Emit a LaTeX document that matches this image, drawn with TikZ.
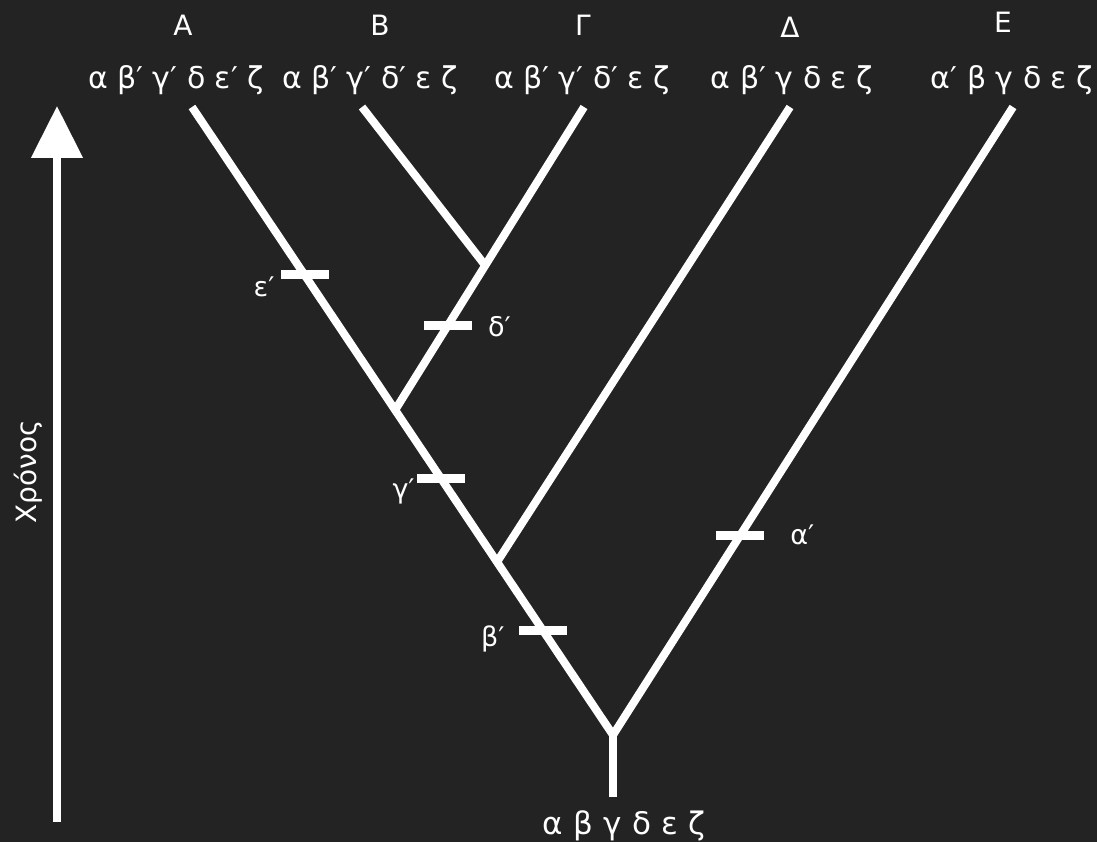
\documentclass[tikz,border=0pt]{standalone}
\usepackage{fontspec}
\setmainfont{DejaVu Sans}
\usetikzlibrary{arrows.meta,calc}
\definecolor{board}{HTML}{232323}
\tikzset{
  branch/.style={draw=white,line width=8pt},
  tickmark/.style={fill=white,minimum width=48pt,minimum height=9pt,inner sep=0pt,outer sep=0pt},
  lbl/.style={text=white,font=\fontsize{27}{30}\selectfont,inner sep=0pt},
  taxon/.style={text=white,font=\fontsize{28}{30}\selectfont,inner sep=0pt},
  state/.style={text=white,font=\fontsize{30}{34}\selectfont,inner sep=0pt},
}
\begin{document}
\begin{tikzpicture}[x=1pt,y=-1pt]
\fill[board] (0,0) rectangle (1097,842);
\useasboundingbox (0,0) rectangle (1097,842);
% tree coordinates
\coordinate (root) at (613,797);
\coordinate (fork) at (613,735);
\coordinate (tipA) at (192,107);
\coordinate (tipB) at (362,107);
\coordinate (tipG) at (584,107);
\coordinate (tipD) at (790,107);
\coordinate (tipE) at (1013,107);
\coordinate (nD) at ($(fork)!0.2755!(tipA)$);
\coordinate (nBG) at ($(fork)!0.5175!(tipA)$);
\coordinate (nB) at ($(nBG)!0.477!(tipG)$);
% branches
\draw[branch] (root) -- (fork);
\draw[branch] (fork) -- (tipA);
\draw[branch] (fork) -- (tipE);
\draw[branch] (nD) -- (tipD);
\draw[branch] (nBG) -- (tipG);
\draw[branch] (nB) -- (tipB);
% character changes
\node[tickmark] (tb) at ($(fork)!0.167!(tipA)$) {};
\node[tickmark] (tg) at ($(fork)!0.409!(tipA)$) {};
\node[tickmark] (te) at ($(fork)!0.7325!(tipA)$) {};
\node[tickmark] (td) at ($(nBG)!0.28!(tipG)$) {};
\node[tickmark] (ta) at ($(fork)!0.318!(tipE)$) {};
\node[lbl,anchor=east] at ($(tb.west)+(-14,9)$) {β′};
\node[lbl,anchor=east] at ($(tg.west)+(-2,13)$) {γ′};
\node[lbl,anchor=east] at ($(te.west)+(-6,12)$) {ε′};
\node[lbl,anchor=west] at ($(td.east)+(16,2)$) {δ′};
\node[lbl,anchor=west] at ($(ta.east)+(26,0)$) {α′};
% taxa
\node[taxon] (A) at (183,25) {Α};
\node[taxon] (B) at (380,25) {Β};
\node[taxon] (G) at (583,25) {Γ};
\node[taxon] (D) at (790,27) {Δ};
\node[taxon] (E) at (1003,22) {Ε};
\node[state] (sA) at (176,80) {α β′ γ′ δ ε′ ζ};
\node[state] (sB) at (370,80) {α β′ γ′ δ′ ε ζ};
\node[state] (sG) at (582,80) {α β′ γ′ δ′ ε ζ};
\node[state] (sD) at (792,80) {α β′ γ δ ε ζ};
\node[state] (sE) at (1012,80) {α′ β γ δ ε ζ};
\node[state,font=\fontsize{31}{34}\selectfont] (sR) at (624,826) {α\,\,β\,\,γ\,\,δ\,\,ε\,\,ζ};
% time arrow
\coordinate (tstart) at (57,822);
\coordinate (tend) at (57,106);
\draw[white,line width=8pt,-{Triangle[width=50pt,length=52pt]}] (tstart) -- (tend);
\node[lbl,rotate=90,font=\fontsize{28}{30}\selectfont] (time) at (28,472) {Χρόνος};
\end{tikzpicture}
\end{document}
